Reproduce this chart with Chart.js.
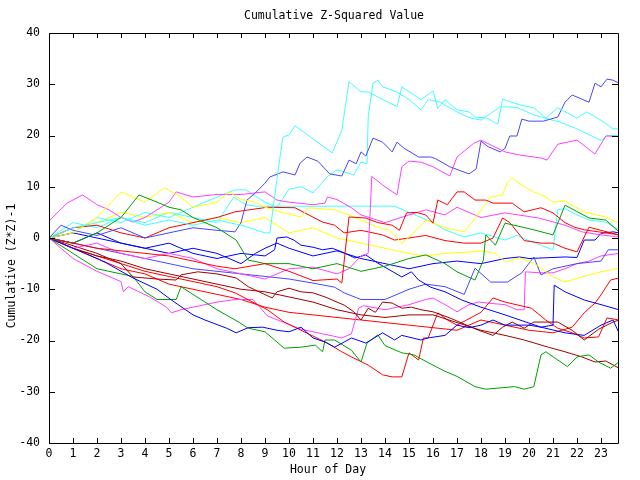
<!DOCTYPE html>
<html>
<head>
<meta charset="utf-8">
<script src="https://cdn.jsdelivr.net/npm/chart.js@4/dist/chart.umd.min.js"></script>
<style>
html,body{margin:0;padding:0;background:#fff;}
#wrap{width:640px;height:480px;}
</style>
</head>
<body>
<div id="wrap"><canvas id="c" width="640" height="480"></canvas></div>
<script>
// ---- tick labels ----
const hourTicks = [0,1,2,3,4,5,6,7,8,9,10,11,12,13,14,15,16,17,18,19,20,21,22,23];
const valueTicks = [-40,-30,-20,-10,0,10,20,30,40];
const chartTitle = "Cumulative Z-Squared Value";
const xTitle = "Hour of Day";
const yTitle = "Cumulative (Z*Z)-1";

// ---- series: [hour, cumulative value] ----
const blueTop = [[0,0],[0.5,2.5],[1,1.5],[2,0.5],[3,2],[4,0],[5,1],[6,2],[7,1.5],[7.75,1.2],[8,3],[8.25,7.4],[8.6,8.8],[9,10.7],[9.2,11.9],[9.75,12.9],[10.25,12.3],[10.46,14.6],[10.75,15.8],[11.2,15],[11.7,12.5],[12.2,12.1],[12.5,15.2],[12.8,14.5],[13,16.8],[13.2,16],[13.5,19.5],[13.9,18.7],[14.3,16.8],[14.5,18.7],[14.8,17.5],[15.4,15.8],[15.9,15.8],[16.1,15.5],[16.7,13.9],[17.5,12.5],[17.8,13.5],[18,18.9],[18.3,17.8],[18.8,16.8],[19,17.5],[19.2,19.9],[19.5,19.9],[19.7,23.2],[20,22.8],[20.6,22.8],[21.2,23.6],[21.5,26.5],[21.8,27.9],[22.5,26.5],[22.75,30.2],[23,29.5],[23.25,31],[23.5,30.8],[23.75,30.2]];
const cyanA = [[0,0],[1,2],[2,3],[3,4],[4,2.5],[5,3.5],[6,2.5],[7,3.5],[8,2.5],[9,1],[9.2,1],[9.6,15],[9.75,19.7],[10,20.1],[10.25,21.9],[10.9,19.7],[11.8,16.6],[12.2,21],[12.5,30.5],[13,28.5],[13.3,28.5],[14.5,25.6],[14.7,29.5],[15.5,27],[16,28.7],[16.2,25.3],[16.5,27],[17,25],[17.5,24.6],[17.75,23.6],[18.25,23.4],[18.7,22.2],[18.9,27.1],[19.6,26],[20.2,25.4],[20.7,23.4],[21.2,25.4],[22,23.4],[22.4,24.6],[23,23],[23.5,21.3],[23.75,21.3]];
const cyanB = [[0,0],[1,1],[2,4],[3,3],[4,5],[5,4],[6,6],[7,8],[7.75,9.4],[8.2,9.4],[9,7],[9.5,6],[10,9.5],[10.5,10],[11,8.8],[11.6,12],[12,13.3],[12.7,12.3],[13,14.8],[13.25,14.5],[13.3,23.6],[13.5,30.2],[13.7,30.8],[13.9,29.5],[14.5,28.5],[15,27],[15.5,25],[15.8,27],[16.3,26.5],[17,24.6],[17.5,23.5],[18,23],[18.8,25.6],[19.5,25.5],[20.2,24],[21.3,22.6],[22,21.3],[23,19],[23.25,20],[23.75,20]];
const cyanC = [[0,0],[1,3],[2,2],[3,4],[4,3],[5,5],[6,4],[7,3],[7.7,8],[8.2,6.5],[8.6,6.2],[14.4,6.2],[15,5],[15.5,4],[16,3],[16.5,1.6],[17.3,0.2],[18,1],[19,-0.4],[19.5,0.5],[20,-0.5],[21,-2.3],[21.2,5.5],[21.5,5.7],[22,4.5],[22.5,3.5],[23.2,3.1],[23.75,1.6]];
const magentaA = [[0,0],[1,-2],[2,-1],[3,-3],[4,-4],[5,-3],[6,-4],[7,-6],[8,-7],[9,-8],[10,-6],[11,-5.7],[12,-7],[12.5,-6],[13,-3.5],[13.3,-3],[13.45,12],[14,10],[14.5,8.4],[14.7,13.9],[15,15],[15.5,14.8],[16,13.9],[16.7,12.1],[17,15.8],[17.7,18.5],[18,19.1],[19,16.8],[19.6,16.2],[20.5,15.6],[20.75,15.2],[21.2,18.3],[22,19.1],[22.75,16.4],[23.2,19.9],[23.75,19.8]];
const magentaB = [[0,3.3],[0.75,6.8],[1.4,8.4],[2,6.5],[2.5,5.5],[3,4],[3.5,3.1],[4,4],[5,7],[5.3,9],[6,8],[7,8.5],[8,8.5],[9,9],[9.5,7.4],[10,7],[11,6.5],[11.5,6.8],[11.6,8],[12,7.5],[12.6,5.9],[13,4.5],[14,3],[15,4.5],[15.7,5.5],[16.5,4.5],[17,6],[18,4],[19,4.9],[20.4,3.9],[21.5,2.5],[22.2,1.2],[23,0.6],[23.75,0.2]];
const magentaC = [[0,0],[1,-4],[2,-6.5],[3,-8.5],[3.1,-10.5],[3.3,-9.5],[4.2,-11.5],[4.9,-13.5],[5.1,-14.6],[5.5,-14],[6,-13.5],[7,-12.5],[7.75,-12],[8.5,-12],[9.1,-15.2],[10.5,-17.8],[11.4,-18.7],[12.2,-19.5],[12.6,-18.7],[12.9,-13.7],[13.1,-13.2],[14,-14],[15,-13],[15.7,-12],[16,-11.7],[16.5,-13],[17,-14.4],[17.5,-13],[17.9,-12.5],[18.5,-12.8],[19,-13],[19.5,-14],[19.8,-14],[19.85,-6.6],[20.5,-6.8],[21,-6.8],[21.5,-6],[22,-5],[22.5,-4.5],[23,-3.5],[23.75,-3]];
const yellowA = [[0,0],[1,1],[2,4],[3,9],[3.5,8],[4,7],[4.8,9.8],[5.5,8],[6,6],[7,7],[7.5,9],[8,7.5],[8.6,7],[9,6],[9.7,5],[10.5,4.1],[10.8,5.9],[11.9,5.5],[12.5,4.5],[13,3.5],[13.7,2.1],[14.2,1.5],[14.7,-1],[15.3,1.5],[15.7,3.5],[16.5,2],[17.3,1.2],[17.6,2.9],[18.4,8],[18.9,8.4],[19.1,10.9],[19.3,11.7],[19.8,10],[20.2,9],[20.7,8],[21,7],[21.5,7.2],[22.3,5.1],[23.2,4.1],[23.75,2.9]];
const yellowB = [[0,0],[1,2],[2,3],[3,5],[4,4],[5,5],[6,3],[7,4],[8,3],[9,4],[10,1],[11,2],[12,0],[13,-1],[14,-2],[15,-3],[15.7,-3.5],[16.5,-3],[17.3,-2.8],[18.1,-2.5],[18.6,-3],[19,-4.7],[19.6,-3.9],[20.2,-4.9],[21,-7.6],[21.5,-8.6],[22.2,-7.6],[23,-6.6],[23.75,-5.9]];
const greenA = [[0,0],[1,-1],[2,1],[3,4],[3.75,8.4],[4.5,7],[5,6],[5.5,5.5],[6,4],[7,2],[7.8,-0.4],[8.3,-4.3],[9,-5],[10,-5],[11,-6],[12,-5],[13,-6.5],[14,-5.5],[15,-4],[15.7,-3.3],[16.5,-5],[17,-6.6],[17.75,-8.2],[18.1,-4.3],[18.2,0.6],[18.6,-1.4],[19,2.9],[20.2,1.6],[21,0.6],[21.5,6.4],[22.5,3.9],[23.2,3.5],[23.75,1.2]];
const greenB = [[0,0],[1,-3],[2,-6],[3,-7],[3.5,-7.5],[4,-10.5],[4.5,-12],[5.3,-12],[5.5,-9.5],[6,-11],[7,-14],[7.9,-16.4],[8.3,-17.6],[9,-18.3],[9.4,-19.9],[9.8,-21.5],[10.5,-21.3],[11.1,-20.9],[11.4,-22.2],[11.5,-19.9],[11.9,-19.9],[12.6,-21.9],[13,-24.2],[13.25,-20.5],[13.7,-18.9],[14,-21],[14.7,-22.4],[15.2,-22.8],[15.75,-24.2],[16.5,-26],[17,-27],[17.75,-29],[18.2,-29.5],[19.4,-29],[19.8,-29.5],[20.2,-29],[20.5,-22.8],[20.7,-22.2],[21.2,-23.8],[21.6,-25.1],[22,-23.2],[22.5,-22.8],[22.9,-24.2],[23.4,-25.4],[23.75,-24.2]];
const redA = [[0,0],[1,-1],[2,-2],[3,-2.5],[4,-3],[5,-3.5],[6,-4.5],[7,-5.5],[7.75,-6],[9,-5],[10,-6.5],[11,-8.3],[12,-8],[12.2,-8.8],[12.35,-2.3],[12.5,4.1],[13.2,3.9],[13.7,3],[14.3,2.5],[14.6,1.5],[14.9,4.9],[15.3,5],[15.7,4.5],[16,2.9],[16.2,7.4],[16.6,6.5],[17,9],[17.3,9],[17.75,7.4],[18.2,7.4],[18.5,6.8],[19.3,6.8],[19.8,5.1],[20.5,5.9],[21,4.9],[21.5,3],[21.9,2.1],[22.3,1.6],[22.9,1.2],[23.2,1],[23.75,0.6]];
const redB = [[0,0],[1,2],[2,2.5],[3,1],[4,0],[5,2],[6,3],[7,4],[7.75,5.1],[9.1,6],[10.25,5.9],[11.4,3.1],[11.9,2.5],[12.3,1],[13,1.5],[13.9,0.6],[14.4,-0.4],[15,0],[15.7,0.5],[16.5,-0.5],[17.3,-1],[18,-1],[18.5,0],[18.9,3.9],[19.2,3],[19.8,-0.5],[20.5,-1],[21,-1],[21.5,-2],[22,-2.7],[22.5,2.1],[23,1.5],[23.75,0.6]];
const redC = [[0,0],[1,-2],[2,-3.5],[3,-5],[4,-6.5],[5,-7.5],[6,-8.5],[7,-9.5],[7.75,-10.7],[9.1,-14],[9.8,-16.4],[10.5,-18],[11.6,-20.5],[12.2,-22.2],[12.6,-23.2],[13.3,-24.8],[13.9,-26.7],[14.3,-27.1],[14.7,-27.1],[15,-22.4],[15.4,-23.8],[15.6,-19.5],[15.8,-19.5],[16.2,-14.6],[16.6,-16],[17,-17],[17.4,-16],[18,-14.5],[18.5,-11.7],[19,-12.5],[20.1,-13.7],[20.7,-16],[21.2,-17.6],[21.8,-18.5],[22.3,-19.5],[22.9,-19.3],[23.25,-15.6],[23.75,-16]];
const redD = [[0,0],[1,-2],[2,-4],[3,-6],[4,-7],[5,-9],[6,-10],[7,-11],[8,-12],[9,-13.5],[10,-14.5],[11,-15],[12,-15.5],[13,-16],[14,-16.5],[15,-17],[16,-17.5],[17,-18],[18,-16],[19,-17],[20,-18],[21,-18.5],[21.8,-17.4],[22.3,-14.6],[22.75,-12.7],[23,-11.1],[23.4,-8.2],[23.75,-7.8]];
const darkRedA = [[0,0],[1,-1.5],[2,-3],[3,-5],[3.5,-7.6],[4.5,-8],[5.3,-8.2],[5.5,-7.2],[6.2,-6.6],[7,-7],[7.8,-7.8],[8.3,-9.5],[9.3,-11.7],[9.5,-10.5],[10,-9.8],[10.5,-10.5],[11,-10.7],[11.5,-11.5],[12.3,-13.1],[12.7,-14.4],[13,-16],[13.3,-13.7],[13.6,-14.5],[13.9,-12.5],[14.3,-12.7],[14.7,-13.7],[15.1,-13.5],[15.5,-14],[16,-14.4],[16.7,-15.6],[17.9,-18],[18.5,-19],[18.9,-17.4],[19.3,-16.4],[19.8,-17.6],[20.2,-16.4],[21.2,-16.4],[21.8,-18],[22.3,-19.9],[22.9,-17.8],[23.5,-16.4],[23.75,-16]];
const darkRedB = [[0,0],[1,-2],[2,-3.5],[3,-4.5],[4,-6],[5,-7],[6,-8],[7,-9],[8,-10],[9,-10.5],[10,-11.5],[11,-12.5],[12,-14],[13,-15],[14,-15.5],[15,-15],[16,-15],[17,-16.5],[18,-18],[19,-19],[19.8,-19.9],[20.8,-21.3],[21.5,-22.2],[22.2,-23.2],[22.75,-24.2],[23.2,-24],[23.75,-25.4]];
const blueB = [[0,0],[1,-2],[2,-4],[2.4,-4.9],[3.5,-7.8],[4.5,-10],[5.1,-12.1],[6,-15],[6.5,-16],[7.4,-17.6],[7.8,-18.5],[8.3,-17.5],[8.9,-17.4],[9.5,-18],[10,-18.3],[10.5,-17.4],[11,-19.5],[11.5,-20.3],[11.9,-21.3],[12.3,-20.3],[12.6,-19.5],[13.2,-20.5],[13.9,-18.5],[14.4,-19.9],[14.7,-19],[15.5,-19.9],[15.8,-19.5],[16.5,-19],[17,-17],[17.5,-17.5],[18,-17],[18.5,-16],[19,-17],[20,-17],[20.5,-17.4],[21,-17],[21.05,-9.2],[21.5,-10.5],[22.3,-12.1],[23,-13],[23.75,-14]];
const blueC = [[0,0],[1,1],[2,0],[3,-1],[4,-2],[5,-1],[6,-3],[7,-4],[8,-3],[9,-3.5],[9.4,-2.3],[9.5,0],[9.9,0.2],[10.2,-0.4],[10.5,-1.4],[11,-1.8],[11.4,-2.3],[11.8,-2],[12.2,-2.7],[12.75,-3.9],[13.2,-3.3],[13.7,-4.9],[14.7,-7.6],[15.1,-6.6],[15.4,-8.2],[15.9,-9.6],[16.5,-10.5],[17.2,-12.1],[18,-13.5],[19,-15],[20.5,-17.4],[21.5,-18.5],[22.3,-19],[23,-17],[23.5,-16],[23.75,-18.5]];
const blueD = [[0,0],[1,-1],[2,1],[3,-1],[4,-2],[5,-3],[6,-2],[7,-3],[8,-5],[8.6,-3],[9,-2],[9.5,-1],[10,-2],[11,-3.5],[12,-2.5],[13,-4],[14,-5],[15,-6],[16,-5],[17,-4.5],[18,-5],[19,-4],[19.6,-3.7],[20,-4],[21.5,-3.7],[22,-3.8],[22.3,-0.4],[22.75,-0.4],[23,0.9],[23.5,1.2],[23.75,1]];
const blueMid = [[0,0],[1,-1],[2,-2],[3,-3],[4,-4],[5,-5],[6,-6],[7,-6.5],[8,-7],[9,-7.5],[10,-8],[11,-8.8],[11.9,-9.6],[12.3,-10.7],[13,-12],[14,-12],[15,-10],[15.7,-9],[16.5,-9.5],[17.3,-11],[17.75,-5.9],[18.4,-8.6],[19.1,-8.6],[19.7,-6.8],[20.2,-3.7],[20.5,-7.2],[21,-6],[22,-5],[23,-4.5],[23.3,-2.3],[23.75,-2.3]];

const seriesList = [
  [redA,'#ff0000'],[greenA,'#00a000'],[blueB,'#0000ff'],[magentaA,'#ff40ff'],
  [cyanA,'#40ffff'],[darkRedA,'#a00000'],[yellowA,'#ffff00'],[blueTop,'#4646ff'],
  [redB,'#ff0000'],[greenB,'#00a000'],[blueC,'#0000ff'],[magentaB,'#ff40ff'],
  [cyanB,'#40ffff'],[darkRedB,'#a00000'],[yellowB,'#ffff00'],[blueMid,'#4646ff'],
  [redC,'#ff0000'],[blueD,'#0000ff'],[magentaC,'#ff40ff'],[cyanC,'#40ffff'],[redD,'#ff0000']
];

const FONT = '11.5px "DejaVu Sans Mono", monospace';

const framePlugin = {
  id: 'frame',
  afterDraw(chart) {
    const {ctx, chartArea: a, scales: {x, y}} = chart;
    ctx.save();
    ctx.strokeStyle = '#000';
    ctx.lineWidth = 1;
    ctx.beginPath();
    ctx.rect(Math.round(a.left) + 0.5, Math.round(a.top) + 0.5, Math.round(a.right - a.left) - 1, Math.round(a.bottom - a.top));
    for (const v of hourTicks) {
      const px = Math.round(x.getPixelForValue(v)) + 0.5;
      ctx.moveTo(px, a.bottom); ctx.lineTo(px, a.bottom - 5);
      ctx.moveTo(px, a.top); ctx.lineTo(px, a.top + 5);
    }
    for (const v of valueTicks) {
      const py = Math.round(y.getPixelForValue(v)) + 0.5;
      ctx.moveTo(a.left, py); ctx.lineTo(a.left + 6, py);
      ctx.moveTo(a.right - 1, py); ctx.lineTo(a.right - 7, py);
    }
    ctx.stroke();
    ctx.fillStyle = '#000';
    ctx.font = FONT;
    ctx.textAlign = 'center';
    ctx.textBaseline = 'middle';
    ctx.fillText(chartTitle, (a.left + a.right) / 2, 16);
    ctx.fillText(xTitle, (a.left + a.right) / 2 - 6, 470);
    ctx.translate(12, 266);
    ctx.rotate(-Math.PI / 2);
    ctx.fillText(yTitle, 0, 0);
    ctx.restore();
  }
};

new Chart(document.getElementById('c'), {
  type: 'line',
  data: {
    datasets: seriesList.map(([pts, col], i) => ({
      label: 's' + i,
      data: pts.map(([h, v]) => ({x: h, y: v})),
      borderColor: col,
      backgroundColor: col,
      borderWidth: 1,
      pointRadius: 0,
      tension: 0,
      fill: false
    }))
  },
  options: {
    responsive: false,
    animation: false,
    devicePixelRatio: 1,
    layout: {padding: {top: 33, right: 21, left: 0, bottom: 0}},
    plugins: {legend: {display: false}, tooltip: {enabled: false}, title: {display: false}},
    scales: {
      x: {
        type: 'linear', min: 0, max: 23.75,
        grid: {display: false, drawTicks: false},
        border: {display: false},
        afterBuildTicks: s => { s.ticks = hourTicks.map(v => ({value: v})); },
        afterFit: s => { s.height = 37; },
        ticks: {font: {family: '"DejaVu Sans Mono", monospace', size: 11.5}, color: '#000', padding: 4, maxRotation: 0, autoSkip: false}
      },
      y: {
        type: 'linear', min: -40, max: 40,
        grid: {display: false, drawTicks: false},
        border: {display: false},
        afterBuildTicks: s => { s.ticks = valueTicks.map(v => ({value: v})); },
        afterFit: s => { s.width = 49; },
        ticks: {font: {family: '"DejaVu Sans Mono", monospace', size: 11.5}, color: '#000', padding: 9}
      }
    }
  },
  plugins: [framePlugin]
});
</script>
</body>
</html>
